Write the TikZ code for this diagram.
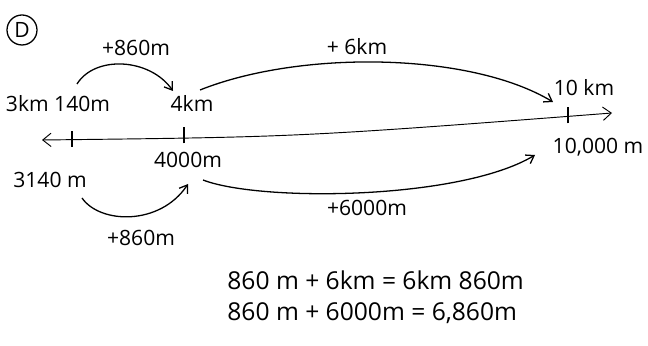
\documentclass[tikz,border=0pt]{standalone}
\usepackage{fontspec}
\setmainfont{Open Sans}
\usepackage{tikz}
\usetikzlibrary{positioning,arrows.meta}

\begin{document}
\begin{tikzpicture}[x=0.03cm,y=-0.03cm,
 lbl/.style={inner sep=1pt, font=\fontsize{18}{20}\selectfont},
 eqn/.style={inner sep=1pt, font=\fontsize{21}{24}\selectfont},
 hop/.style={-{Straight Barb[length=2.2mm,width=3mm]}, line width=1.1pt},
 axis/.style={{Straight Barb[length=2.5mm,width=4mm]}-{Straight Barb[length=2.5mm,width=4mm]}, line width=0.8pt},
 tick/.style={line width=1pt},
]
 \useasboundingbox (0,0) rectangle (648,346);

 \node[draw, circle, line width=1.1pt, minimum size=0.9cm, inner sep=0pt, lbl] (D) at (22,30) {D};

 \coordinate (L) at (42,140);
 \coordinate (R) at (612,113);
 \draw[axis] (L) .. controls (300,137) .. (R);
 \coordinate (T1) at (72,139);
 \coordinate (T2) at (184,135.5);
 \coordinate (T3) at (568,115.5);
 \foreach \t in {T1,T2,T3}
  \draw[tick] ([yshift=-0.24cm]\t) -- ([yshift=0.24cm]\t);

 \node[lbl] (KM3) at (58,104) {3km 140m};
 \node[lbl] (KM4) at (192,103) {4km};
 \node[lbl] (KM10) at (584,88) {10 km};
 \node[lbl] (M3140) at (50,180) {3140 m};
 \node[lbl] (M4000) at (188,160) {4000m};
 \node[lbl] (M10000) at (598,147) {10,000 m};

 \node[lbl] (UpA) at (136,48) {+860m};
 \node[lbl] (UpB) at (357,47) {+ 6km};
 \node[lbl] (DnA) at (141,238) {+860m};
 \node[lbl] (DnB) at (367,208) {+6000m};

 \coordinate (a1) at (77,84);
 \coordinate (a2) at (173,91);
 \coordinate (b1) at (200,90);
 \coordinate (b2) at (553,102);
 \coordinate (c1) at (82,198);
 \coordinate (c2) at (188,184);
 \coordinate (d1) at (203,180);
 \coordinate (d2) at (535,155);
 \draw[hop] (a1) .. controls (95,55) and (150,58) .. (a2);
 \draw[hop] (b1) .. controls (300,50) and (470,52) .. (b2);
 \draw[hop] (c1) .. controls (100,224) and (160,226) .. (c2);
 \draw[hop] (d1) .. controls (260,202) and (460,200) .. (d2);

 \node[eqn, anchor=west] (E1) at (226,280) {860 m + 6km = 6km 860m};
 \node[eqn, anchor=west] (E2) at (226,313) {860 m + 6000m = 6,860m};
\end{tikzpicture}
\end{document}
